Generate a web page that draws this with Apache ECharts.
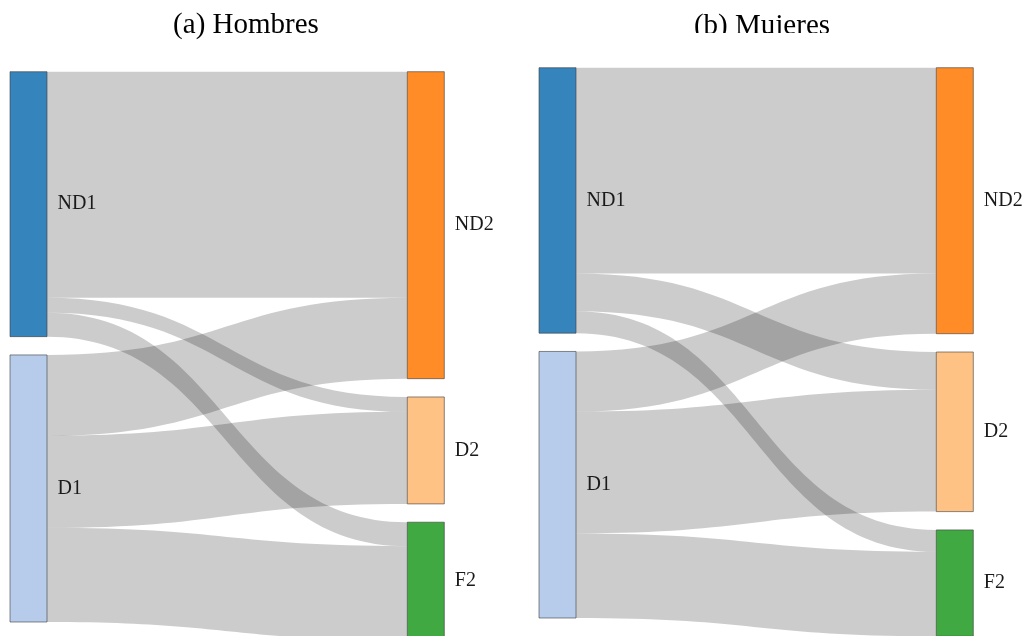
<!DOCTYPE html>
<html>
<head>
<meta charset="utf-8">
<script src="https://cdn.jsdelivr.net/npm/echarts@6/dist/echarts.min.js"></script>
<style>
  html, body { margin: 0; padding: 0; background: #ffffff; }
  #chart { width: 1030px; height: 636px; }
</style>
</head>
<body>
<div id="chart"></div>
<script>
// Transition flows between the first and the second observation (% of each group)
const nodeNames = ['ND1', 'D1', 'ND2', 'D2', 'F2'];
const nodeColors = [
  'rgba(31,119,180,0.9)',   // ND1
  'rgba(174,199,232,0.9)',  // D1
  'rgba(255,127,14,0.9)',   // ND2
  'rgba(255,187,120,0.9)',  // D2
  'rgba(44,160,44,0.9)'     // F2
];
const linkSources = ['ND1', 'ND1', 'ND1', 'D1', 'D1', 'D1'];
const linkTargets = ['ND2', 'D2', 'F2', 'ND2', 'D2', 'F2'];
const hombresValues = [42.5, 2.8, 4.5, 15.2, 17.3, 17.7];
const mujeresValues = [38.7, 7.1, 4.1, 11.3, 22.9, 15.9];
const panelTitles = ['(a) Hombres', '(b) Mujeres'];

const serif = '"Liberation Serif", "DejaVu Serif", serif';

function buildNodes() {
  return nodeNames.map(function (name, i) {
    return { name: name, itemStyle: { color: nodeColors[i] } };
  });
}

function buildLinks(values) {
  return values.map(function (v, i) {
    return { source: linkSources[i], target: linkTargets[i], value: v };
  });
}

function sankeySeries(values, box) {
  return {
    type: 'sankey',
    left: box.left,
    top: box.top,
    width: box.width,
    height: box.height,
    nodeWidth: 37,
    nodeGap: 18.3,
    layoutIterations: 0,
    draggable: false,
    emphasis: { disabled: true },
    data: buildNodes(),
    links: buildLinks(values),
    itemStyle: {
      borderColor: 'rgba(60,60,60,0.6)',
      borderWidth: 1
    },
    lineStyle: {
      color: '#000000',
      opacity: 0.2,
      curveness: 0.5
    },
    label: {
      show: true,
      position: 'right',
      distance: 10,
      color: '#1a1a1a',
      fontFamily: serif,
      fontSize: 20
    }
  };
}

const chart = echarts.init(document.getElementById('chart'), null, { renderer: 'canvas' });

const titleStyle = { fontFamily: serif, fontSize: 29, fontWeight: 'normal', color: '#000000' };

chart.setOption({
  backgroundColor: '#ffffff',
  animation: false,
  title: [
    { text: panelTitles[0], left: 241, top: 6, textAlign: 'center', textStyle: titleStyle },
    { text: panelTitles[1], left: 757, top: 7, textAlign: 'center', textStyle: titleStyle }
  ],
  // the second panel heading is cut just below its baseline
  graphic: [
    {
      type: 'rect',
      z: 100,
      shape: { x: 670, y: 33, width: 180, height: 14 },
      style: { fill: '#ffffff' }
    }
  ],
  series: [
    sankeySeries(hombresValues, { left: 10, top: 71.7, width: 434.3, height: 568.6 }),
    sankeySeries(mujeresValues, { left: 539, top: 67.7, width: 434.3, height: 568.6 })
  ]
});
</script>
</body>
</html>
